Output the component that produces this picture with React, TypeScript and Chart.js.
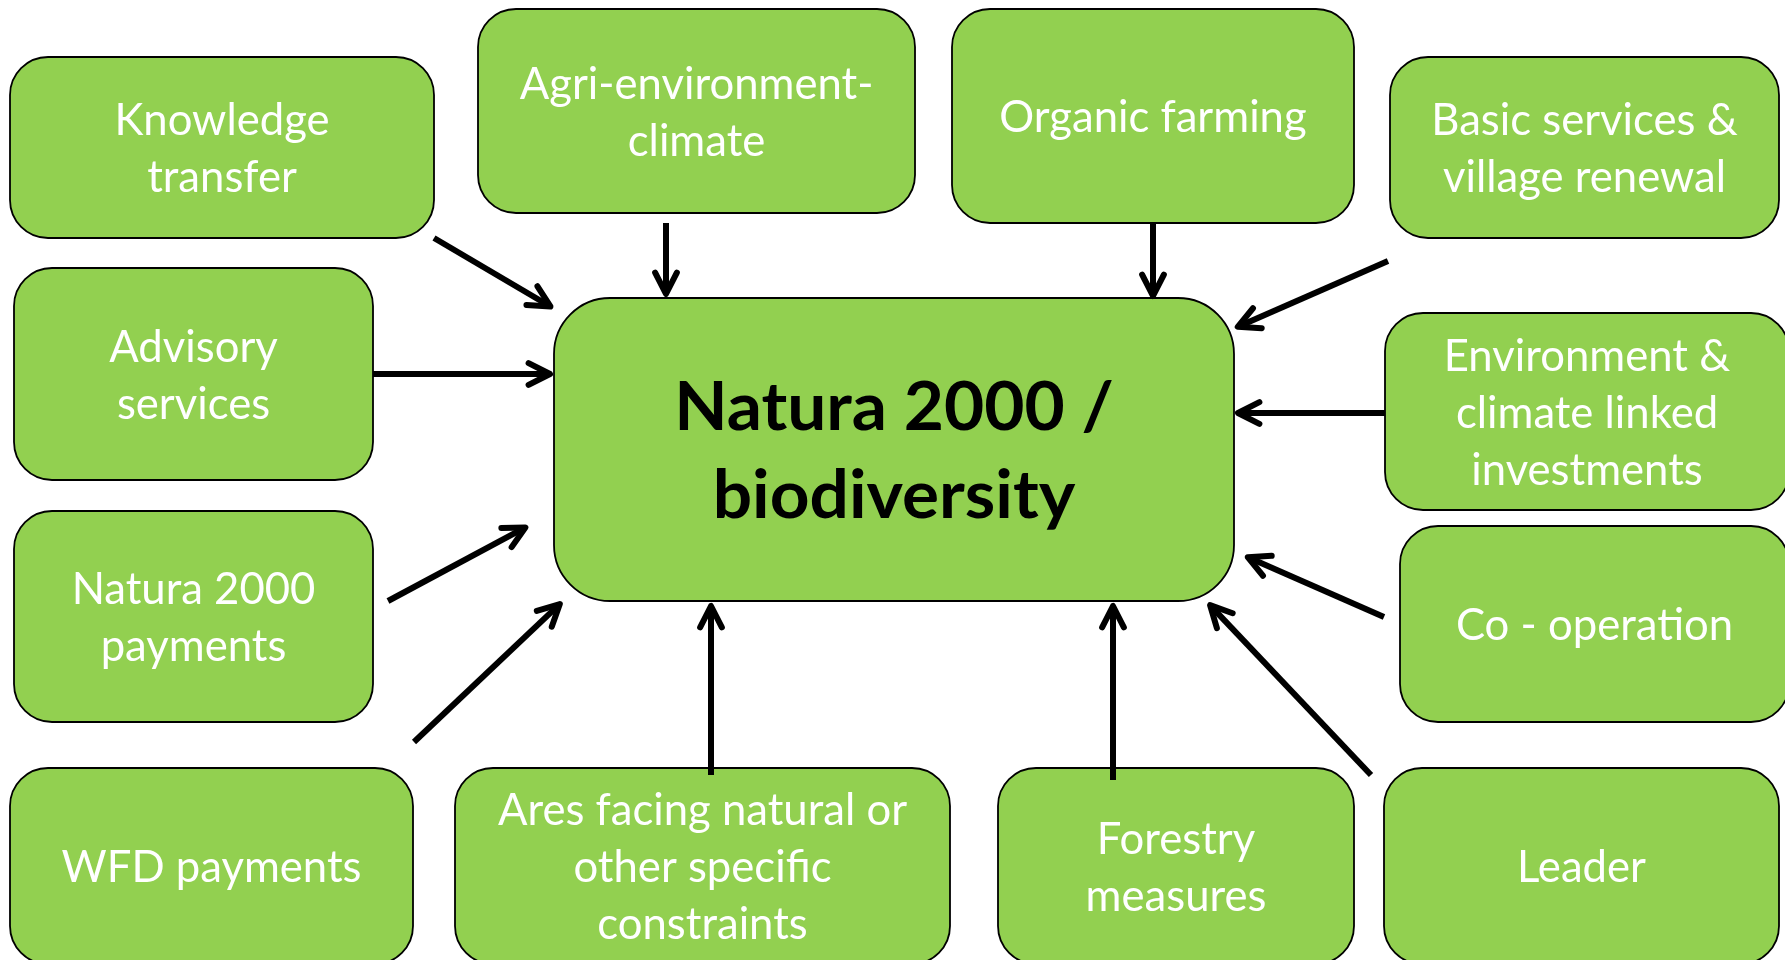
import React, { useEffect, useRef } from "react";
import { Chart, registerables } from "chart.js";

Chart.register(...registerables);

// ---- data ----
const nodeLines: string[][] = [
  ["Knowledge", "transfer"],
  ["Agri-environment-", "climate"],
  ["Organic farming"],
  ["Basic services &", "village renewal"],
  ["Advisory", "services"],
  ["Environment &", "climate linked", "investments"],
  ["Natura 2000", "payments"],
  ["Co - operation"],
  ["WFD payments"],
  ["Ares facing natural or", "other specific", "constraints"],
  ["Forestry", "measures"],
  ["Leader"],
  ["Natura 2000 /", "biodiversity"],
];
const nodeLeft = [10, 478, 952, 1390, 14, 1385, 14, 1400, 10, 455, 998, 1384, 554];
const nodeTop = [57, 9, 9, 57, 268, 313, 511, 526, 768, 768, 768, 768, 298];
const nodeRight = [434, 915, 1354, 1779, 373, 1789, 373, 1789, 413, 950, 1354, 1779, 1234];
const nodeBottom = [238, 213, 223, 238, 480, 510, 722, 722, 964, 964, 964, 964, 601];
const nodeIsHub = [false, false, false, false, false, false, false, false, false, false, false, false, true];

const arrowFromX = [434, 666, 1153, 1388, 373, 1385, 388, 1384, 414, 711, 1113, 1371];
const arrowFromY = [238, 223, 223, 261, 374, 413, 601, 617, 742, 775, 780, 775];
const arrowToX = [553, 666, 1153, 1235, 553, 1235, 528, 1245, 562, 711, 1113, 1208];
const arrowToY = [308, 297, 299, 328, 374, 413, 526, 556, 602, 603, 603, 603];

// ---- styles ----
const GREEN = "#92D050";
const FONT_FAMILY = "Lato, 'Noto Sans', sans-serif";
const NORMAL_SIZE = 45;
const HUB_SIZE = 67;
const NORMAL_STRETCH = 0.97;
const HUB_STRETCH = 1.035;
const NORMAL_GAP = 57;
const HUB_GAP = 88;
const ARROW_WIDTH = 6;

const diagramPlugin = {
  id: "diagram",
  beforeDatasetsDraw(chart: any) {
    const { ctx, scales } = chart;
    const xs = scales.x;
    const ys = scales.y;
    ctx.save();
    for (let i = 0; i < nodeLines.length; i++) {
      const x0 = xs.getPixelForValue(nodeLeft[i]);
      const x1 = xs.getPixelForValue(nodeRight[i]);
      const y0 = ys.getPixelForValue(nodeTop[i]);
      const y1 = ys.getPixelForValue(nodeBottom[i]);
      const hub = nodeIsHub[i];
      const r = hub ? 56 : 38;
      ctx.beginPath();
      (ctx as any).roundRect(x0, y0, x1 - x0, y1 - y0, r);
      ctx.fillStyle = GREEN;
      ctx.fill();
      ctx.lineWidth = 1.8;
      ctx.strokeStyle = "#000";
      ctx.stroke();

      const size = hub ? HUB_SIZE : NORMAL_SIZE;
      const gap = hub ? HUB_GAP : NORMAL_GAP;
      const stretch = hub ? HUB_STRETCH : NORMAL_STRETCH;
      ctx.font = `${hub ? "bold " : ""}${size}px ${FONT_FAMILY}`;
      ctx.fillStyle = hub ? "#000" : "#fff";
      ctx.textAlign = "center";
      ctx.textBaseline = "alphabetic";
      const capH = ctx.measureText("H").actualBoundingBoxAscent;
      const cx = (x0 + x1) / 2;
      const cy = (y0 + y1) / 2;
      const lines = nodeLines[i];
      const n = lines.length;
      for (let k = 0; k < n; k++) {
        const base = cy + capH / 2 + (k - (n - 1) / 2) * gap;
        ctx.save();
        ctx.translate(cx, base);
        ctx.scale(stretch, 1);
        ctx.fillText(lines[k], 0, 0);
        ctx.restore();
      }
    }
    ctx.restore();
  },
  afterDatasetsDraw(chart: any) {
    const { ctx, scales } = chart;
    const xs = scales.x;
    const ys = scales.y;
    ctx.save();
    ctx.strokeStyle = "#000";
    ctx.lineWidth = ARROW_WIDTH;
    ctx.lineCap = "round";
    ctx.lineJoin = "round";
    for (let i = 0; i < arrowFromX.length; i++) {
      const fx = xs.getPixelForValue(arrowFromX[i]);
      const fy = ys.getPixelForValue(arrowFromY[i]);
      const tx0 = xs.getPixelForValue(arrowToX[i]);
      const ty0 = ys.getPixelForValue(arrowToY[i]);
      const ang = Math.atan2(ty0 - fy, tx0 - fx);
      // keep the rounded tip inside the target point
      const tx = tx0 - 3 * Math.cos(ang);
      const ty = ty0 - 3 * Math.sin(ang);
      const len = 24;
      const spread = 0.47;
      ctx.beginPath();
      ctx.moveTo(tx - len * Math.cos(ang - spread), ty - len * Math.sin(ang - spread));
      ctx.lineTo(tx, ty);
      ctx.lineTo(tx - len * Math.cos(ang + spread), ty - len * Math.sin(ang + spread));
      ctx.stroke();
    }
    ctx.restore();
  },
};

export default function App() {
  const canvasRef = useRef<HTMLCanvasElement | null>(null);

  useEffect(() => {
    const canvas = canvasRef.current;
    if (!canvas) return;
    const datasets = arrowFromX.map((_, i) => {
      const ang = Math.atan2(arrowToY[i] - arrowFromY[i], arrowToX[i] - arrowFromX[i]);
      return {
        type: "line" as const,
        label: `arrow ${i + 1}`,
        data: [
          { x: arrowFromX[i], y: arrowFromY[i] },
          { x: arrowToX[i] - 5 * Math.cos(ang), y: arrowToY[i] - 5 * Math.sin(ang) },
        ],
        borderColor: "#000",
        borderWidth: ARROW_WIDTH,
        borderCapStyle: "butt" as const,
        pointRadius: 0,
        fill: false,
        tension: 0,
      };
    });
    const chart = new Chart(canvas, {
      type: "line",
      data: { datasets },
      options: {
        animation: false,
        responsive: false,
        maintainAspectRatio: false,
        devicePixelRatio: 1,
        layout: { padding: 0 },
        plugins: {
          legend: { display: false },
          tooltip: { enabled: false },
          title: { display: false },
        },
        scales: {
          x: { type: "linear", min: 0, max: 1785, display: false },
          y: { type: "linear", min: 0, max: 960, reverse: true, display: false },
        },
        events: [],
      },
      plugins: [diagramPlugin],
    });
    return () => chart.destroy();
  }, []);

  return (
    <div style={{ position: "fixed", left: 0, top: 0, width: 1785, height: 960, background: "#fff" }}>
      <canvas ref={canvasRef} width={1785} height={960} style={{ display: "block", width: 1785, height: 960 }} />
    </div>
  );
}
